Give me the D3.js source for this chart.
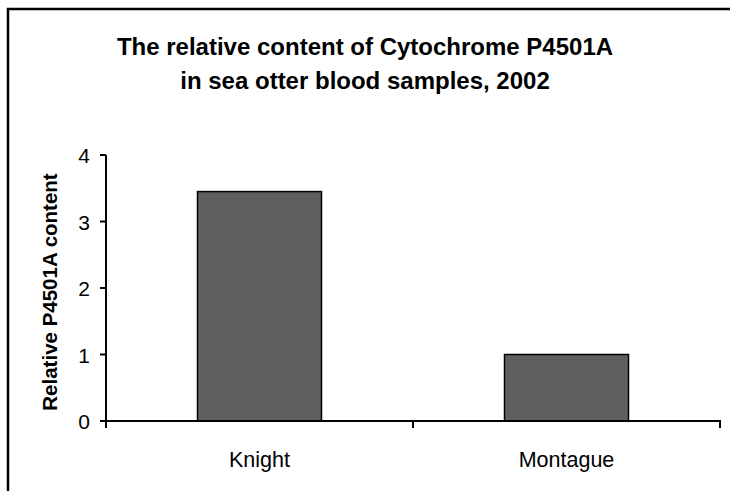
<!DOCTYPE html>
<html>
<head>
<meta charset="utf-8">
<script src="https://cdnjs.cloudflare.com/ajax/libs/d3/7.8.5/d3.min.js"></script>
<style>
  html, body { margin: 0; background: #fff; overflow: hidden; }
  svg { display: block; }
  text { font-family: "Liberation Sans", Arial, sans-serif; fill: #000; }
  .title { font-size: 24px; font-weight: bold; }
  .tick-text { font-size: 21px; }
  .cat-text { font-size: 21.5px; }
  .axis-title { font-size: 20.5px; font-weight: bold; }
</style>
</head>
<body>
<svg id="chart" width="730" height="491"></svg>
<script>
var categories = ["Knight", "Montague"];
var values = [3.45, 1.0];
var yTicks = [0, 1, 2, 3, 4];
var titleLines = ["The relative content of Cytochrome P4501A", "in sea otter blood samples, 2002"];
var yTitle = "Relative P4501A content";

var svg = d3.select("#chart");

// outer frame, right and bottom run off the picture
svg.append("rect")
   .attr("x", 8).attr("y", 9)
   .attr("width", 800).attr("height", 560)
   .attr("fill", "none")
   .attr("stroke", "#000")
   .attr("stroke-width", 2.5);

var x = d3.scaleBand().domain(categories).range([106, 720]).paddingInner(0).paddingOuter(0);
var y = d3.scaleLinear().domain([0, 4]).range([421, 155]);

var bw = 124;
svg.selectAll("rect.bar")
   .data(values)
   .enter().append("rect")
   .attr("class", "bar")
   .attr("x", function(d, i) { return x(categories[i]) + x.bandwidth() / 2 - bw / 2; })
   .attr("y", function(d) { return y(d); })
   .attr("width", bw)
   .attr("height", function(d) { return y(0) - y(d); })
   .attr("fill", "#5f5f5f")
   .attr("stroke", "#000")
   .attr("stroke-width", 1.5);

// y axis
svg.append("line")
   .attr("x1", 106).attr("x2", 106)
   .attr("y1", y(4)).attr("y2", y(0))
   .attr("stroke", "#000").attr("stroke-width", 2);
svg.selectAll("line.ytick")
   .data(yTicks)
   .enter().append("line")
   .attr("x1", 100).attr("x2", 106)
   .attr("y1", function(d) { return y(d); })
   .attr("y2", function(d) { return y(d); })
   .attr("stroke", "#000").attr("stroke-width", 2);
svg.selectAll("text.ytick")
   .data(yTicks)
   .enter().append("text")
   .attr("class", "tick-text")
   .attr("x", 90)
   .attr("y", function(d) { return y(d) + 8; })
   .attr("text-anchor", "end")
   .text(function(d) { return d; });

// x axis
svg.append("line")
   .attr("x1", 106).attr("x2", 721)
   .attr("y1", y(0)).attr("y2", y(0))
   .attr("stroke", "#000").attr("stroke-width", 2);
var xEdges = [0, 1, 2];
svg.selectAll("line.xtick")
   .data(xEdges)
   .enter().append("line")
   .attr("x1", function(d) { return 106 + d * x.bandwidth(); })
   .attr("x2", function(d) { return 106 + d * x.bandwidth(); })
   .attr("y1", y(0)).attr("y2", y(0) + 7)
   .attr("stroke", "#000").attr("stroke-width", 2);
svg.selectAll("text.cat")
   .data(categories)
   .enter().append("text")
   .attr("class", "cat-text")
   .attr("x", function(d) { return x(d) + x.bandwidth() / 2; })
   .attr("y", 467)
   .attr("text-anchor", "middle")
   .text(function(d) { return d; });

// titles
svg.selectAll("text.title")
   .data(titleLines)
   .enter().append("text")
   .attr("class", "title")
   .attr("x", 365)
   .attr("y", function(d, i) { return 55 + i * 34; })
   .attr("text-anchor", "middle")
   .text(function(d) { return d; });

svg.append("text")
   .attr("class", "axis-title")
   .attr("transform", "translate(57,292) rotate(-90)")
   .attr("text-anchor", "middle")
   .text(yTitle);
</script>
</body>
</html>
